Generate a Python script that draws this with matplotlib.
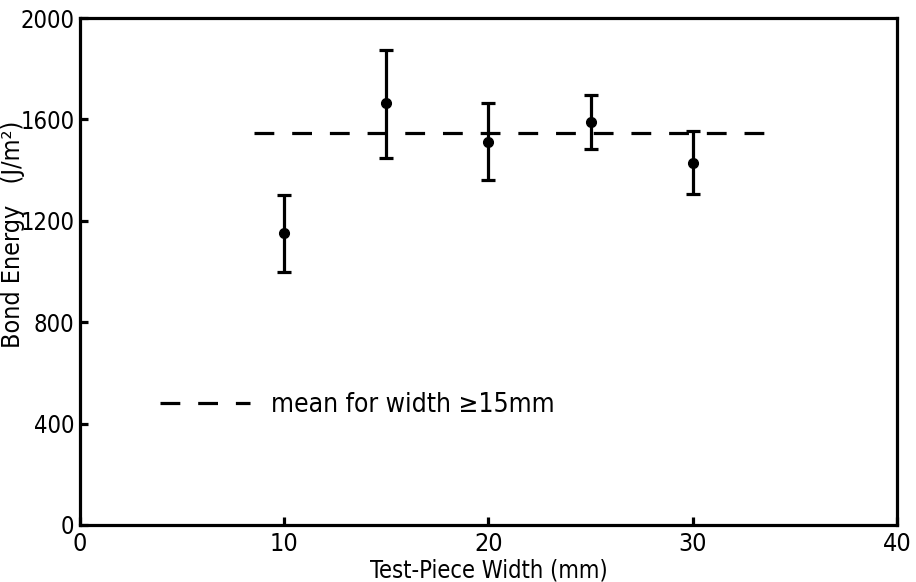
import matplotlib
matplotlib.use("Agg")
import matplotlib.pyplot as plt

plt.rcParams['font.family'] = ['DejaVu Sans']
plt.rcParams['font.stretch'] = 'condensed'

# data
widths = [10, 15, 20, 25, 30]
energy = [1152, 1665, 1511, 1590, 1428]
err_low = [154, 217, 150, 107, 122]
err_high = [150, 209, 154, 106, 126]

mean_energy = 1546
mean_span = [8.5, 33.7]

xticks = [0, 10, 20, 30, 40]
yticks = [0, 400, 800, 1200, 1600, 2000]

fs = 19
lw = 2.3

fig = plt.figure(figsize=(9.16, 5.82), dpi=100)
ax = fig.add_axes([0.0873, 0.098, 0.8918, 0.871])

ax.errorbar(widths, energy, yerr=[err_low, err_high], fmt='o', color='black',
            ms=7, elinewidth=lw, capsize=5, capthick=lw)

ax.plot(mean_span, [mean_energy, mean_energy], color='black', lw=lw,
        linestyle=(0, (6.2, 5.6)), label='mean for width \u226515mm')

ax.set_xlim(0, 40)
ax.set_ylim(0, 2000)
ax.set_xticks(xticks)
ax.set_yticks(yticks)
ax.tick_params(direction='in', length=6, width=lw, labelsize=fs)
ax.tick_params(axis='x', pad=5, labelsize=18)
ax.tick_params(axis='y', pad=4, labelsize=17)
for s in ax.spines.values():
    s.set_linewidth(lw)

ax.set_xlabel('Test-Piece Width (mm)', fontsize=17)
ax.set_ylabel('Bond Energy   (J/m\u00b2)', fontsize=18)
ax.xaxis.set_label_coords(0.5, -0.067)
ax.yaxis.set_label_coords(-0.067, 0.574)

ax.legend(loc='center left', bbox_to_anchor=(0.098, 0.237), frameon=False,
          fontsize=fs, borderpad=0, borderaxespad=0, handlelength=3.4,
          handletextpad=0.8)

fig.savefig('out.png', dpi=100)
